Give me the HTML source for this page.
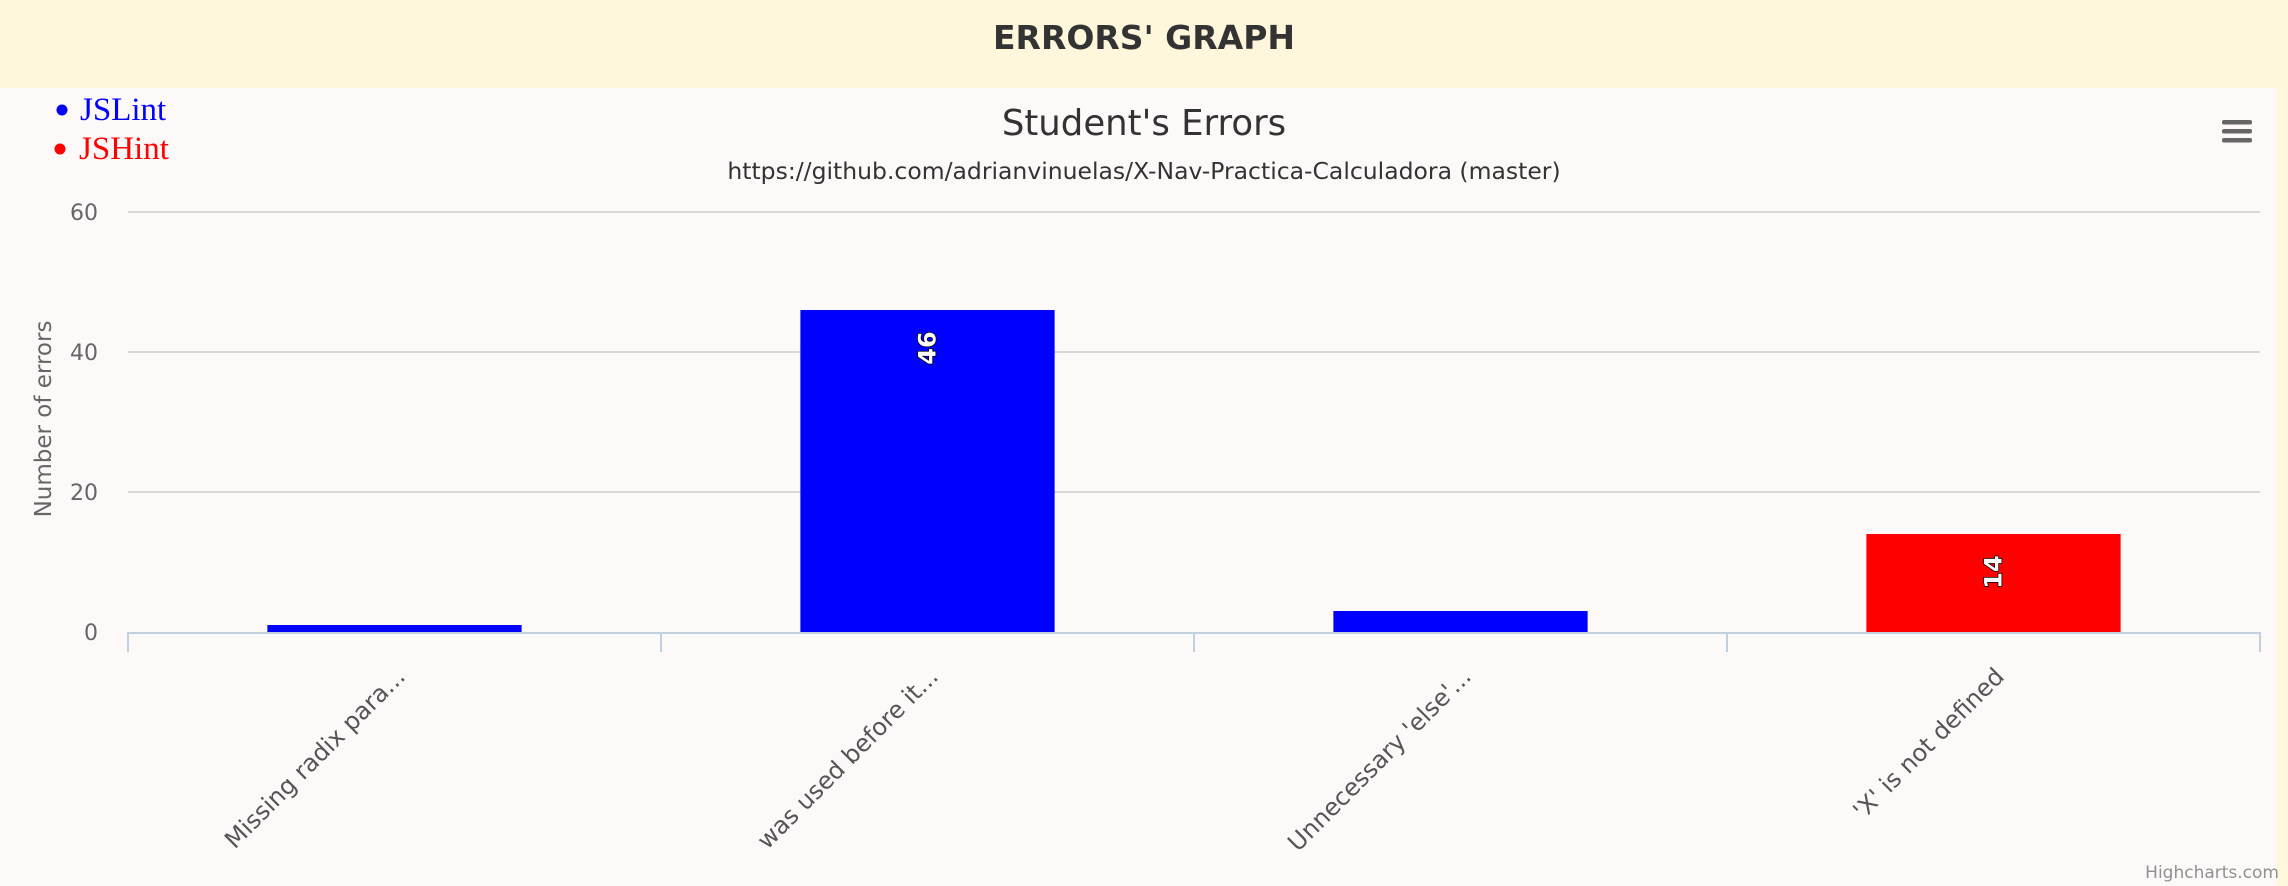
<!DOCTYPE html>
<html><head><meta charset="utf-8"><style>
body{margin:0;width:2288px;height:886px;overflow:hidden;background:#fff8dc;font-family:"DejaVu Sans","Liberation Sans",sans-serif}
#hdr{position:absolute;left:0;top:0;width:2288px;height:88px;background:#fff7dc;text-align:center;line-height:76px;font-weight:bold;font-size:33px;color:#333;letter-spacing:0px}
#chart{position:absolute;left:0;top:88px;width:2276px;height:798px;background:#fdf9f8}
</style></head><body>
<div id="hdr">ERRORS' GRAPH</div>
<div id="chart"></div>
<svg id="svg" width="2288" height="886" style="position:absolute;left:0;top:0" font-family="'DejaVu Sans',sans-serif">
<text x="1144" y="135" text-anchor="middle" font-size="35.5" fill="#333">Student's Errors</text>
<text x="1144" y="179" text-anchor="middle" font-size="23.5" fill="#333">https://github.com/adrianvinuelas/X-Nav-Practica-Calculadora (master)</text>
<g>
<circle cx="62" cy="110" r="5.5" fill="#00f"/>
<text x="80" y="120" font-family="'Liberation Serif',serif" font-size="33" fill="#00f">JSLint</text>
<circle cx="60" cy="149" r="5.5" fill="#f00"/>
<text x="79" y="159" font-family="'Liberation Serif',serif" font-size="33" fill="#f00">JSHint</text>
</g>
<g fill="#666">
<rect x="2222" y="120" width="30" height="4.5" rx="2"/><rect x="2222" y="129" width="30" height="4.5" rx="2"/><rect x="2222" y="138" width="30" height="4.5" rx="2"/>
</g>
<text transform="translate(51,419) rotate(-90)" text-anchor="middle" font-size="23" fill="#666">Number of errors</text>
<g id="plot"></g>
<text x="2279" y="878" text-anchor="end" font-size="17" fill="#909090">Highcharts.com</text>
</svg>
<script>
const categories = ["Missing radix para...", "was used before it...", "Unnecessary 'else'...", "'X' is not defined"];
const values = [1, 46, 3, 14];
const seriesOf = ["JSLint", "JSLint", "JSLint", "JSHint"];
const yTicks = [0, 20, 40, 60];
const colors = {JSLint: "#0000ff", JSHint: "#ff0000"};
const NS = "http://www.w3.org/2000/svg";
const L = 128, R = 2260, Y0 = 632, Y60 = 212;
const yS = v => Y0 - (v / 60) * (Y0 - Y60);
const cw = (R - L) / categories.length;
const xC = i => L + cw * (i + 0.5);
const g = document.getElementById('plot');
function mk(t, a) { const e = document.createElementNS(NS, t); for (const k in a) e.setAttribute(k, a[k]); g.appendChild(e); return e; }
yTicks.forEach(t => {
  if (t > 0) {
    const ln = mk('line', {x1: L, x2: R, y1: yS(t), y2: yS(t), stroke: '#d8d8d8', 'stroke-width': 2});
    
    
  }
  const tx = mk('text', {x: 98, y: yS(t) + 8, 'text-anchor': 'end', 'font-size': 22, fill: '#666'});
  tx.textContent = t;
  
  
});
categories.forEach((c, i) => {
  const bw = cw * 0.477;
  const h = Y0 - yS(values[i]);
  const b = mk('rect', {x: xC(i) - bw / 2, y: yS(values[i]), width: bw, height: h, fill: colors[seriesOf[i]]});
  
  
  if (values[i] >= 10) {
    const vx = xC(i), vy = yS(values[i]) + 38;
    const lb = mk('text', {x: vx, y: vy, transform: `rotate(-90 ${vx} ${vy})`, 'text-anchor': 'middle', 'dominant-baseline': 'central', 'font-size': 24, 'font-weight': 'bold', fill: '#fff', stroke: '#000', 'stroke-width': 1.5, 'paint-order': 'stroke'});
    lb.textContent = values[i];
    
    
  }
  const lx = xC(i) + 12, ly = 678;
  const cl = mk('text', {x: lx, y: ly, transform: `rotate(-45 ${lx} ${ly})`, 'text-anchor': 'end', 'font-size': 24, fill: '#555'});
  cl.textContent = c;
  
  
});
for (let i = 0; i <= categories.length; i++) {
  const x = L + cw * i;
  const tk = mk('line', {x1: x, x2: x, y1: Y0, y2: 652, stroke: '#c0d0e0', 'stroke-width': 2});
  
  
}
const ax = mk('line', {x1: L, x2: R, y1: Y0 + 1, y2: Y0 + 1, stroke: '#c0d0e0', 'stroke-width': 2});


</script>
</body></html>
